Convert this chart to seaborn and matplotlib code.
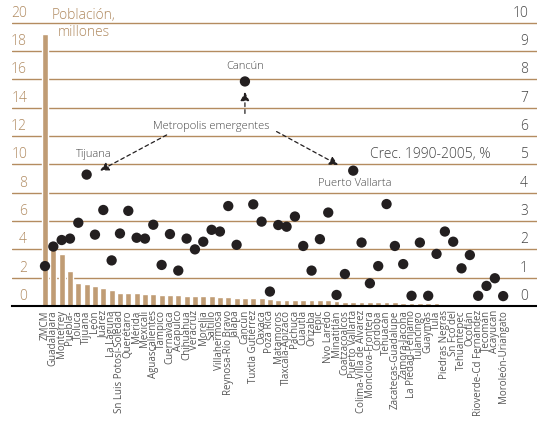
import numpy as np
import pandas as pd
import seaborn as sns
import matplotlib.pyplot as plt
import matplotlib.transforms as mtransforms

# ciudades (orden del eje x)
cities = ['ZMCM', 'Guadalajara', 'Monterrey', 'Puebla-', 'Toluca', 'Tijuana', 'León',
          'Juárez', 'La Laguna', 'Sn Luis Potosí-Soledad', 'Querétaro', 'Mérida',
          'Mexicali', 'Aguascalientes', 'Tampico', 'Cuernavaca', 'Acapulco', 'Chihuahua',
          'Veracruz', 'Morelia', 'Saltillo', 'Villahermosa', 'Reynosa-Río Bravo', 'Jalapa',
          'Cancún', 'Tuxtla Gutiérrez', 'Oaxaca', 'Poza Rica', 'Matamoros',
          'Tlaxcala-Apizaco', 'Pachuca', 'Cuautla', 'Orizaba', 'Tepic', 'Nvo Laredo',
          'Minatitlán', 'Coatzacoalcos', 'Puerto Vallarta', 'Colima-Villa de Álvarez',
          'Monclova-Frontera', 'Córdoba', 'Tehuacán', 'Zacatecas-Guadalupe',
          'Zamora-Jacona', 'La Piedad-Pénjamo', 'Tulancingo', 'Guaymas', 'Tula',
          'Piedras Negras', 'Sn Fco del', 'Tehuantepec', 'Ocotlán', 'Rioverde-Cd Fernández',
          'Tecomán', 'Acayucan', 'Moroleón-Uriangato']

# población, millones (eje izquierdo)
poblacion = [19.2, 4.0, 3.7, 2.45, 1.63, 1.53, 1.39, 1.25, 1.11, 0.92, 0.92, 0.92,
             0.85, 0.85, 0.78, 0.78, 0.76, 0.74, 0.68, 0.68, 0.68, 0.64, 0.62, 0.58,
             0.58, 0.58, 0.57, 0.50, 0.45, 0.45, 0.45, 0.42, 0.42, 0.41, 0.41, 0.38,
             0.30, 0.30, 0.28, 0.28, 0.28, 0.28, 0.27, 0.24, 0.24, 0.23, 0.18, 0.18,
             0.17, 0.17, 0.16, 0.16, 0.14, 0.14, 0.12, 0.11]

# crecimiento 1990-2005, % (eje derecho)
crecimiento = [1.41, 2.10, 2.33, 2.38, 2.94, 4.64, 2.52, 3.39, 1.61, 2.56, 3.36, 2.41,
               2.38, 2.87, 1.45, 2.54, 1.25, 2.38, 2.00, 2.27, 2.69, 2.63, 3.53, 2.16,
               7.93, 3.59, 2.98, 0.51, 2.86, 2.80, 3.16, 2.12, 1.25, 2.36, 3.30, 0.39,
               1.13, 4.78, 2.24, 0.80, 1.41, 3.60, 2.12, 1.48, 0.36, 2.24, 0.36, 1.84,
               2.63, 2.27, 1.33, 1.80, 0.36, 0.71, 0.98, 0.35]

pop_ticks = list(range(0, 21, 2))
crec_ticks = list(range(0, 11))

bar_col = '#c09c74'
grid_col = '#b48c60'
tan_text = '#b08a60'
dark = '#231f20'
gray = '#444444'

sns.set_style('white')
plt.rcParams['font.family'] = ['Open Sans', 'DejaVu Sans']

df = pd.DataFrame({'ciudad': cities, 'poblacion': poblacion, 'crecimiento': crecimiento})
df['pos'] = np.arange(len(df))

fig = plt.figure(figsize=(5.37, 4.23), dpi=100)
ax = fig.add_axes([12 / 537, 1 - 306 / 423, 525 / 537, 286 / 423])

sns.barplot(data=df, x='ciudad', y='poblacion', order=cities, color=bar_col,
            saturation=1, width=0.7, ax=ax)
ax.set_xlim(-3.96, 59.06)
ax.set_ylim(0, 20.2)
ax.set_yticks(pop_ticks)
ax.yaxis.grid(True, color=grid_col, lw=1)
ax.set_axisbelow(True)
ax.tick_params(axis='y', length=0, labelleft=False)
ax.set_xticks(df['pos'])
ax.set_xticklabels(cities, rotation=90, fontsize=7, color='#555555')
ax.tick_params(axis='x', length=0, pad=3)
ax.set_xlabel('')
ax.set_ylabel('')
for s in ['top', 'left', 'right']:
    ax.spines[s].set_visible(False)
ax.spines['bottom'].set_color('black')
ax.spines['bottom'].set_linewidth(1.5)

# etiquetas del eje izquierdo encima de las líneas
trans = mtransforms.blended_transform_factory(ax.transAxes, ax.transData)
for v in pop_ticks:
    ax.text(0.0286, v + 0.15, str(v), transform=trans, ha='right', va='bottom',
            fontsize=10, color=tan_text, fontweight='light')

ax2 = ax.twinx()
sns.scatterplot(data=df, x='pos', y='crecimiento', ax=ax2, color=dark, s=55,
                edgecolor='none', zorder=5)
ax2.set_ylim(0, 10.1)
ax2.set_xlim(-3.96, 59.06)
ax2.set_yticks([])
ax2.set_ylabel('')
ax2.set_xlabel('')
for s in ax2.spines.values():
    s.set_visible(False)

trans2 = mtransforms.blended_transform_factory(ax2.transAxes, ax2.transData)
for v in crec_ticks:
    ax2.text(0.983, v + 0.075, str(v), transform=trans2, ha='right', va='bottom',
             fontsize=10, color=gray, fontweight='light')

# anotaciones
txt = dict(fontsize=8, color=gray, ha='center', va='center', fontweight='light')
ax2.text(24, 8.45, 'Cancún', **txt)
ax2.text(19.9, 6.35, 'Metropolis emergentes', **txt)
ax2.text(5.9, 5.34, 'Tijuana', **txt)
ax2.text(37.2, 4.33, 'Puerto Vallarta', **txt)
ax2.text(46.3, 5.34, 'Crec. 1990-2005, %', fontsize=10, color=gray,
         ha='center', va='center', fontweight='light')

arr = dict(arrowstyle='-|>', linestyle=(0, (3, 2.5)), color=dark, lw=0.9,
           mutation_scale=13, shrinkA=0, shrinkB=0)
ax2.annotate('', xy=(24, 7.56), xytext=(24, 6.8), arrowprops=arr)
ax2.annotate('', xy=(6.6, 4.78), xytext=(14.6, 6.04), arrowprops=arr)
ax2.annotate('', xy=(35.2, 4.98), xytext=(27.8, 6.16), arrowprops=arr)

fig.text(84 / 537, 1 - 24 / 423, 'Población,\nmillones', ha='center', va='center',
         fontsize=10, color=tan_text, linespacing=1.1, fontweight='light')

fig.savefig('out.png', dpi=100)
